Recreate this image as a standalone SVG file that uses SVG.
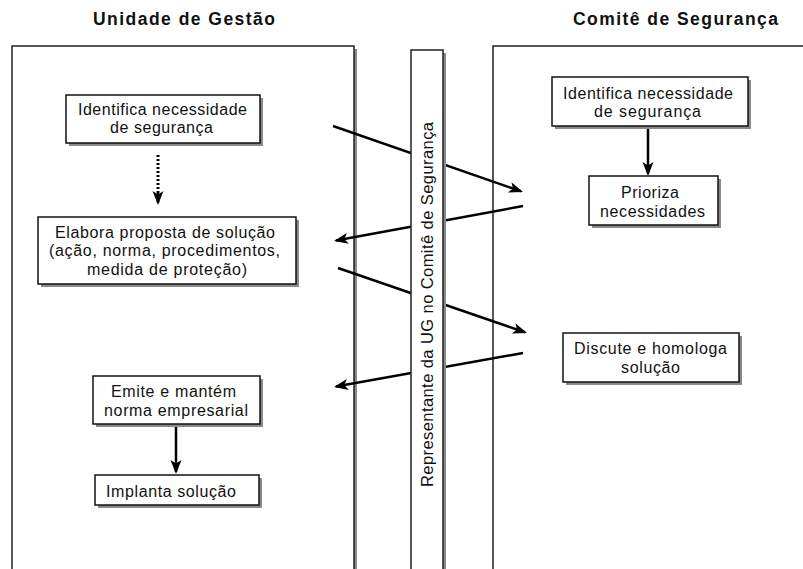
<svg xmlns="http://www.w3.org/2000/svg" width="803" height="569" viewBox="0 0 803 569">
<style>
.bg{fill:#fff}
.panel{fill:#fff;stroke:#222;stroke-width:1.5}
.shadow{fill:#8a8a8a}
.box{fill:#fff;stroke:#111;stroke-width:1.5}
.t{font-family:"Liberation Sans",Arial,sans-serif;font-size:16px;fill:#111}
.title{font-family:"Liberation Sans",Arial,sans-serif;font-size:17.5px;font-weight:bold;fill:#111}
.c{fill:none;stroke:#000;stroke-width:2.5}
.dot{fill:none;stroke:#000;stroke-width:3;stroke-dasharray:2 2}
</style>
<defs>
<marker id="ah" markerUnits="userSpaceOnUse" markerWidth="16" markerHeight="13" refX="12" refY="5.5" orient="auto" viewBox="0 0 16 13">
<path d="M0,0 L14,5.5 L0,11 L3.5,5.5 Z" fill="#000"/>
</marker>
</defs>
<rect class="bg" x="0" y="0" width="803" height="569"/>
<text class="title" x="93" y="25" textLength="182" lengthAdjust="spacing">Unidade de Gestão</text>
<text class="title" x="573" y="25" textLength="205" lengthAdjust="spacing">Comitê de Segurança</text>
<g id="lane-ug">
<rect class="shadow" x="15" y="49" width="342" height="560"/>
<rect class="panel" x="12" y="46" width="342" height="560"/>
</g>
<g id="lane-cs">
<rect class="shadow" x="496" y="49" width="340" height="560"/>
<rect class="panel" x="493" y="46" width="340" height="560"/>
</g>
<g id="connectors">
<line class="c" x1="333" y1="126" x2="521" y2="191.3" marker-end="url(#ah)"/>
<line class="c" x1="523" y1="206" x2="336" y2="240.6" marker-end="url(#ah)"/>
<line class="c" x1="338" y1="268" x2="525" y2="332.3" marker-end="url(#ah)"/>
<line class="c" x1="523" y1="353" x2="336" y2="386.6" marker-end="url(#ah)"/>
<line class="dot" x1="158" y1="155" x2="158" y2="195"/>
<line class="c" x1="158" y1="193" x2="158" y2="203" marker-end="url(#ah)"/>
<line class="c" x1="648" y1="126" x2="648" y2="174" marker-end="url(#ah)"/>
<line class="c" x1="176" y1="424" x2="176" y2="472" marker-end="url(#ah)"/>
</g>
<g id="representante">
<rect class="shadow" x="414" y="53" width="32" height="560"/>
<rect class="panel" x="411" y="50" width="32" height="560"/>
<text class="t" transform="translate(433,487) rotate(-90)" x="0" y="0" textLength="365" lengthAdjust="spacing" style="font-size:16.5px">Representante da UG no Comitê de Segurança</text>
</g>
<g id="ug-identifica">
<rect class="shadow" x="69" y="98" width="194" height="48"/>
<rect class="box" x="66" y="95" width="194" height="48"/>
<text class="t" x="78" y="115" textLength="169" lengthAdjust="spacing">Identifica necessidade</text>
<text class="t" x="110" y="133" textLength="103" lengthAdjust="spacing">de segurança</text>
</g>
<g id="ug-elabora">
<rect class="shadow" x="41" y="220" width="258" height="67"/>
<rect class="box" x="38" y="217" width="258" height="67"/>
<text class="t" x="55" y="238" textLength="220" lengthAdjust="spacing">Elabora proposta de solução</text>
<text class="t" x="49" y="256" textLength="231" lengthAdjust="spacing">(ação, norma, procedimentos,</text>
<text class="t" x="87" y="275" textLength="160" lengthAdjust="spacing">medida de proteção)</text>
</g>
<g id="ug-emite">
<rect class="shadow" x="96" y="379" width="167" height="48"/>
<rect class="box" x="93" y="376" width="167" height="48"/>
<text class="t" x="111" y="397" textLength="125" lengthAdjust="spacing">Emite e mantém</text>
<text class="t" x="104" y="416" textLength="144" lengthAdjust="spacing">norma empresarial</text>
</g>
<g id="ug-implanta">
<rect class="shadow" x="98" y="478" width="164" height="30"/>
<rect class="box" x="95" y="475" width="164" height="30"/>
<text class="t" x="106" y="497" textLength="130" lengthAdjust="spacing">Implanta solução</text>
</g>
<g id="cs-identifica">
<rect class="shadow" x="555" y="80" width="196" height="49"/>
<rect class="box" x="552" y="77" width="196" height="49"/>
<text class="t" x="563" y="99" textLength="170" lengthAdjust="spacing">Identifica necessidade</text>
<text class="t" x="594" y="117" textLength="107" lengthAdjust="spacing">de segurança</text>
</g>
<g id="cs-prioriza">
<rect class="shadow" x="592" y="179" width="129" height="49"/>
<rect class="box" x="589" y="176" width="129" height="49"/>
<text class="t" x="621" y="198" textLength="58" lengthAdjust="spacing">Prioriza</text>
<text class="t" x="600" y="217" textLength="105" lengthAdjust="spacing">necessidades</text>
</g>
<g id="cs-discute">
<rect class="shadow" x="566" y="336" width="176" height="49"/>
<rect class="box" x="563" y="333" width="176" height="49"/>
<text class="t" x="574" y="354" textLength="153" lengthAdjust="spacing">Discute e homologa</text>
<text class="t" x="621" y="373" textLength="59" lengthAdjust="spacing">solução</text>
</g>
</svg>
